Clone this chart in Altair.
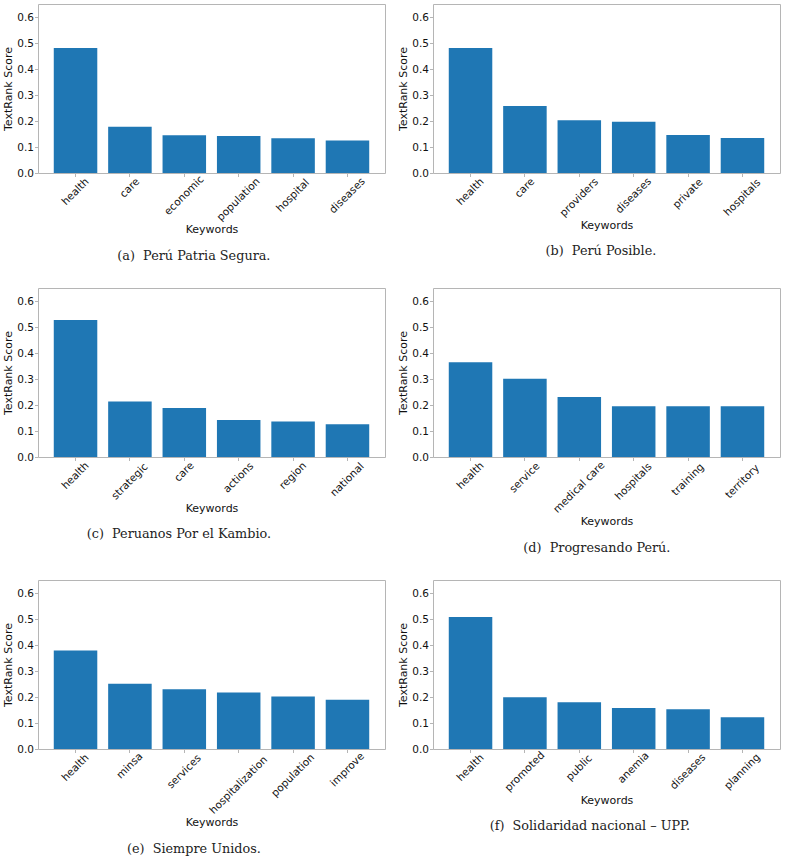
import altair as alt
import pandas as pd

# TextRank keyword scores for each party's government plan
captions = [
    "(a)\u00a0\u00a0Perú Patria Segura.",
    "(b)\u00a0\u00a0Perú Posible.",
    "(c)\u00a0\u00a0Peruanos Por el Kambio.",
    "(d)\u00a0\u00a0Progresando Perú.",
    "(e)\u00a0\u00a0Siempre Unidos.",
    "(f)\u00a0\u00a0Solidaridad nacional – UPP.",
]

keywords_a = ["health", "care", "economic", "population", "hospital", "diseases"]
scores_a = [0.481, 0.178, 0.145, 0.142, 0.134, 0.125]

keywords_b = ["health", "care", "providers", "diseases", "private", "hospitals"]
scores_b = [0.481, 0.258, 0.203, 0.197, 0.146, 0.135]

keywords_c = ["health", "strategic", "care", "actions", "region", "national"]
scores_c = [0.527, 0.213, 0.188, 0.142, 0.137, 0.126]

keywords_d = ["health", "service", "medical care", "hospitals", "training", "territory"]
scores_d = [0.364, 0.301, 0.231, 0.195, 0.195, 0.195]

keywords_e = ["health", "minsa", "services", "hospitalization", "population", "improve"]
scores_e = [0.379, 0.251, 0.230, 0.217, 0.202, 0.189]

keywords_f = ["health", "promoted", "public", "anemia", "diseases", "planning"]
scores_f = [0.508, 0.199, 0.180, 0.158, 0.153, 0.122]

y_ticks = [0.0, 0.1, 0.2, 0.3, 0.4, 0.5, 0.6]

# Rotated tick labels are centred on their tick; push each one down by half of
# its rotated extent (estimated from the label length) so its top sits just
# under the axis.
ROTATED_LABEL_PAD = "3.3 + 1.93 * length(datum.label)"


def panel(words, scores, caption, caption_dx=0):
    df = pd.DataFrame({"keyword": words, "score": scores})
    return (
        alt.Chart(df)
        .mark_bar(color="#1f77b4")
        .encode(
            x=alt.X(
                "keyword:N",
                sort=None,
                title="Keywords",
                scale=alt.Scale(paddingInner=0.2, paddingOuter=0.29),
                axis=alt.Axis(
                    labelAngle=-45,
                    labelAlign="center",
                    labelBaseline="middle",
                    labelPadding=alt.ExprRef(ROTATED_LABEL_PAD),
                    labelOverlap=False,
                    titlePadding=1,
                ),
            ),
            y=alt.Y(
                "score:Q",
                title="TextRank Score",
                scale=alt.Scale(domain=[0, 0.65], nice=False),
                axis=alt.Axis(values=y_ticks, format=".1f", labelPadding=1, titlePadding=3),
            ),
        )
        .properties(
            width=347,
            height=169,
            title=alt.TitleParams(
                caption,
                orient="bottom",
                anchor="middle",
                frame="bounds",
                dx=caption_dx,
                font="DejaVu Serif",
                fontSize=12.8,
                fontWeight="normal",
                color="#222222",
                offset=15,
            ),
        )
    )


row1 = alt.hconcat(panel(keywords_a, scores_a, captions[0], 0),
                   panel(keywords_b, scores_b, captions[1], 12), spacing=11)
row2 = alt.hconcat(panel(keywords_c, scores_c, captions[2], -15),
                   panel(keywords_d, scores_d, captions[3], 8), spacing=11)
row3 = alt.hconcat(panel(keywords_e, scores_e, captions[4], 0),
                   panel(keywords_f, scores_f, captions[5], 1), spacing=11)

chart = (
    alt.vconcat(row1, row2, row3, spacing=23)
    .properties(padding={"left": 2, "top": 3, "right": 5, "bottom": 0})
    .configure(background="white")
    .configure_view(stroke="#b5b5b5", strokeWidth=1)
    .configure_axis(
        grid=False,
        domain=False,
        tickColor="#b5b5b5",
        tickSize=3.5,
        labelFont="DejaVu Sans",
        labelFontSize=10.5,
        labelColor="#111111",
        titleFont="DejaVu Sans",
        titleFontSize=11,
        titleFontWeight="normal",
        titleColor="#111111",
    )
)

chart.save("out.html", embed_options={"renderer": "svg", "actions": False})
